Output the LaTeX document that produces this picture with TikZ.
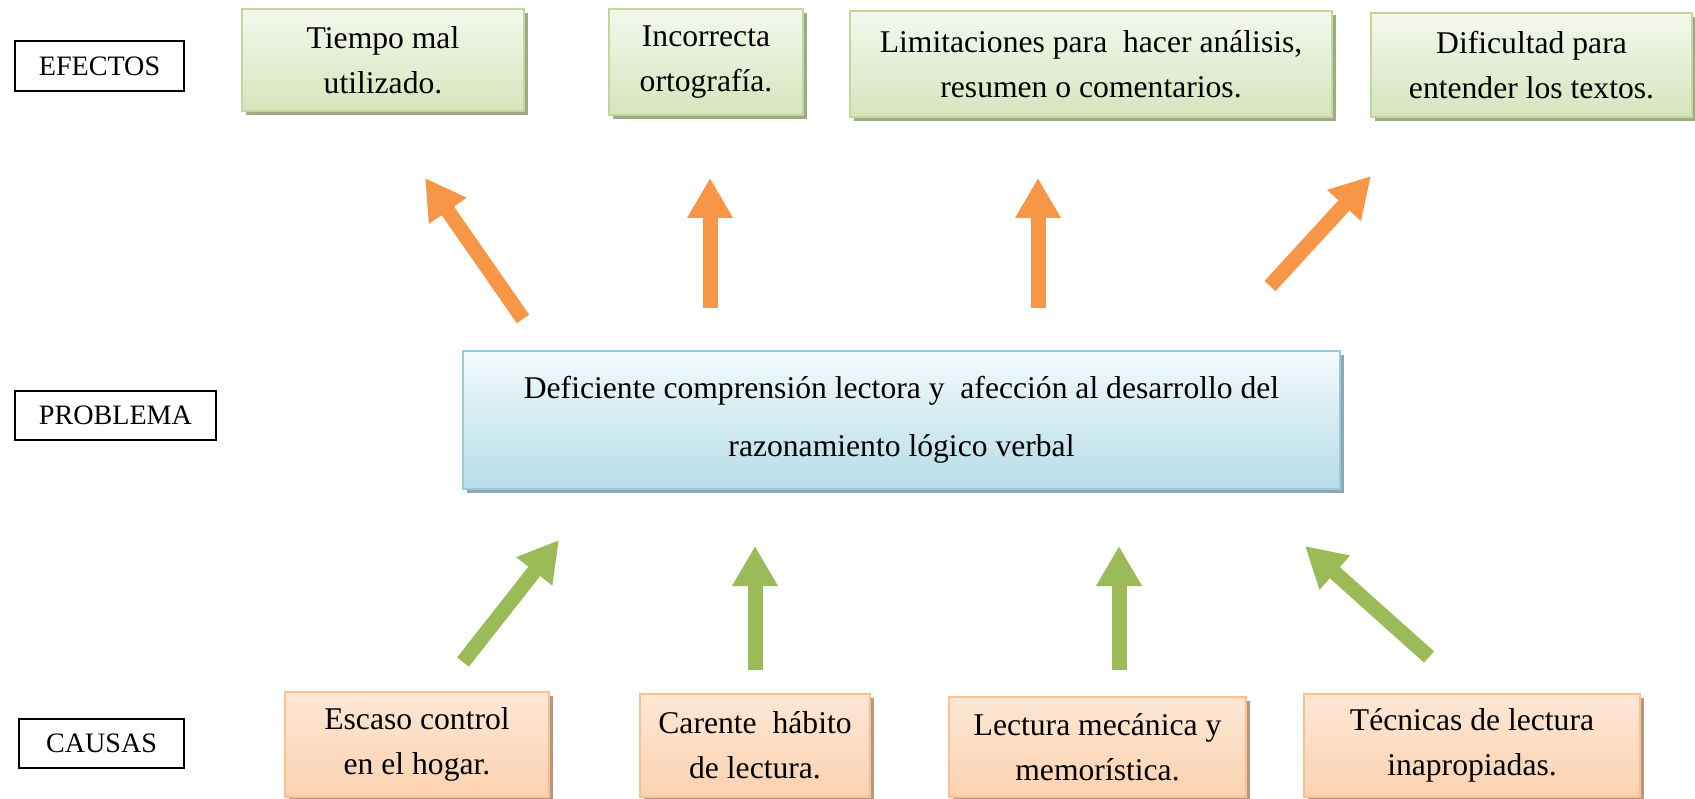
\documentclass[tikz,border=0pt]{standalone}
\usepackage{fontspec}
\setmainfont{Liberation Serif}
\usetikzlibrary{positioning,arrows.meta,shadows}
\definecolor{efline}{HTML}{C3D69B}
\definecolor{eftop}{HTML}{F4F8EC}
\definecolor{efbot}{HTML}{D7E4BD}
\definecolor{efshade}{HTML}{9DAA86}
\definecolor{prline}{HTML}{92CDDC}
\definecolor{prtop}{HTML}{F3FAFC}
\definecolor{prbot}{HTML}{B7DDE8}
\definecolor{prshade}{HTML}{8FA7B0}
\definecolor{caline}{HTML}{FAC090}
\definecolor{catop}{HTML}{FDE7D5}
\definecolor{cabot}{HTML}{FBD2B0}
\definecolor{cashade}{HTML}{B49880}
\definecolor{arrorange}{HTML}{F79646}
\definecolor{arrgreen}{HTML}{9BBB59}
\tikzset{lbl/.style={draw, line width=0.6pt, fill=white, inner sep=0pt, font=\fontsize{16}{19}\selectfont}}
\tikzset{efbox/.style={draw=efline, line width=1.2pt, top color=eftop, bottom color=efbot, drop shadow={shadow xshift=2.5pt, shadow yshift=-2.5pt, fill=efshade, opacity=1}, align=center, inner sep=0pt, font=\fontsize{18}{25.5}\selectfont}}
\tikzset{prbox/.style={draw=prline, line width=1.2pt, top color=prtop, bottom color=prbot, drop shadow={shadow xshift=2.5pt, shadow yshift=-2.5pt, fill=prshade, opacity=1}, align=center, inner sep=0pt, font=\fontsize{18}{33}\selectfont}}
\tikzset{cabox/.style={draw=caline, line width=1.2pt, top color=catop, bottom color=cabot, drop shadow={shadow xshift=2.5pt, shadow yshift=-2.5pt, fill=cashade, opacity=1}, align=center, inner sep=0pt, font=\fontsize{18}{25.5}\selectfont}}
\tikzset{arrO/.style={draw=arrorange, line width=0.3cm, -{Triangle[width=0.86cm, length=0.8cm]}}}
\tikzset{arrG/.style={draw=arrgreen, line width=0.3cm, -{Triangle[width=0.86cm, length=0.8cm]}}}
\begin{document}
\begin{tikzpicture}
   \useasboundingbox (0,0) rectangle (33.9,15.96);
   \node[lbl, minimum width=3.38cm, minimum height=1cm] (efectos) at (1.99,14.64) {EFECTOS};
   \node[lbl, minimum width=4.02cm, minimum height=0.98cm] (problema) at (2.31,7.65) {PROBLEMA};
   \node[lbl, minimum width=3.3cm, minimum height=0.98cm] (causas) at (2.03,1.09) {CAUSAS};
   \node[efbox, minimum width=5.64cm, minimum height=2.04cm] (tiempo) at (7.66,14.76) {Tiempo mal\\utilizado.};
   \node[efbox, minimum width=3.88cm, minimum height=2.12cm] (orto) at (14.12,14.72) {Incorrecta\\ortografía.};
   \node[efbox, minimum width=9.64cm, minimum height=2.12cm] (limit) at (21.82,14.68) {Limitaciones para~ hacer análisis,\\resumen o comentarios.};
   \node[efbox, minimum width=6.42cm, minimum height=2.08cm] (dific) at (30.63,14.66) {Dificultad para\\entender los textos.};
   \node[prbox, minimum width=17.54cm, minimum height=2.76cm] (prob) at (18.03,7.56) {Deficiente comprensión lectora y~ afección al desarrollo del\\razonamiento lógico verbal};
   \node[cabox, minimum width=5.28cm, minimum height=2.1cm] (escaso) at (8.34,1.07) {Escaso control\\en el hogar.};
   \node[cabox, minimum width=4.6cm, minimum height=2.06cm] (carente) at (15.1,1.05) {Carente~ hábito\\de lectura.};
   \node[cabox, minimum width=5.94cm, minimum height=2.0cm] (mecanica) at (21.95,1.02) {Lectura mecánica y\\memorística.};
   \node[cabox, minimum width=6.72cm, minimum height=2.06cm] (tecnicas) at (29.44,1.05) {Técnicas de lectura\\inapropiadas.};
   \coordinate (o1s) at (10.46,9.58);  \coordinate (o1e) at (8.5,12.4);
   \coordinate (o2s) at (14.2,9.8);    \coordinate (o2e) at (14.2,12.4);
   \coordinate (o3s) at (20.76,9.8);   \coordinate (o3e) at (20.76,12.4);
   \coordinate (o4s) at (25.4,10.24);  \coordinate (o4e) at (27.42,12.44);
   \coordinate (g1s) at (9.26,2.72);   \coordinate (g1e) at (11.18,5.16);
   \coordinate (g2s) at (15.1,2.56);   \coordinate (g2e) at (15.1,5.04);
   \coordinate (g3s) at (22.38,2.56);  \coordinate (g3e) at (22.38,5.04);
   \coordinate (g4s) at (28.58,2.82);  \coordinate (g4e) at (26.1,5.04);
   \draw[arrO] (o1s) -- (o1e);
   \draw[arrO] (o2s) -- (o2e);
   \draw[arrO] (o3s) -- (o3e);
   \draw[arrO] (o4s) -- (o4e);
   \draw[arrG] (g1s) -- (g1e);
   \draw[arrG] (g2s) -- (g2e);
   \draw[arrG] (g3s) -- (g3e);
   \draw[arrG] (g4s) -- (g4e);
\end{tikzpicture}
\end{document}
